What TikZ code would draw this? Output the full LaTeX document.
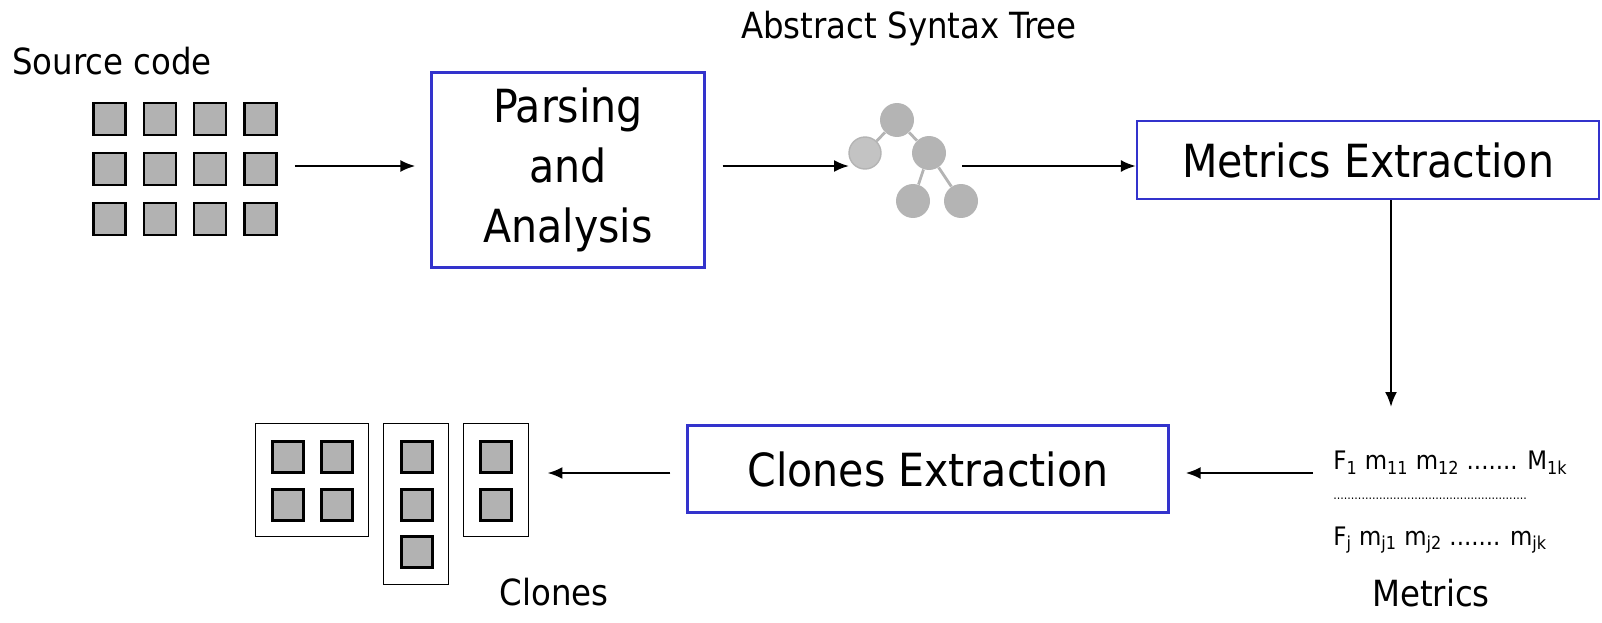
\documentclass[tikz,border=0pt]{standalone}
\usepackage{fontspec}
\setmainfont{DejaVu Sans Condensed}
\usetikzlibrary{matrix,calc,arrows.meta}
\definecolor{boxblue}{RGB}{51,51,204}
\definecolor{sqgray}{RGB}{178,178,178}
\definecolor{treegray}{RGB}{180,180,180}
\tikzset{
  stepbox/.style  = {draw=boxblue, line width=1.3pt, align=center,
                     inner sep=0pt, font=\fontsize{26}{34}\selectfont},
  codesq/.style   = {draw=black, fill=sqgray, line width=1.3pt,
                     minimum size=0.64cm, inner sep=0pt},
  group/.style    = {draw=black, line width=1.1pt, inner sep=0pt},
  treenode/.style = {circle, fill=treegray, minimum size=0.68cm, inner sep=0pt},
  treeedge/.style = {draw=treegray, line width=1.6pt},
  caption/.style  = {font=\fontsize{20.5}{24}\selectfont},
  metric/.style   = {font=\fontsize{14.5}{17}\selectfont, inner sep=0pt},
  flow/.style     = {-{Latex[length=0.3cm,width=0.24cm]}, line width=1.3pt}
}

\begin{document}
\begin{tikzpicture}[x=0.02cm,y=-0.02cm]
  \useasboundingbox (0,0) rectangle (1602,622);

  % source code
  \node[caption] (srclabel) at (112,61) {Source code};
  \matrix (src) at (185,169)
    [
      matrix of nodes,
      column sep    = 0.32cm,
      row sep       = 0.32cm,
      nodes         = {codesq},
      inner sep     = 0pt
    ]
    {
      {} & {} & {} & {} \\
      {} & {} & {} & {} \\
      {} & {} & {} & {} \\
    };

  % steps
  \node[stepbox, minimum width=5.46cm, minimum height=3.9cm] (parse) at (568,170)
    {Parsing\\and\\Analysis};
  \node[stepbox, minimum width=9.24cm, minimum height=1.56cm] (metx) at (1368,160)
    {Metrics Extraction};
  \node[stepbox, minimum width=9.62cm, minimum height=1.74cm] (cex) at (928,469)
    {Clones Extraction};

  % abstract syntax tree
  \node[caption] (astlabel) at (909,29) {Abstract Syntax Tree};
  \node[treenode] (t0) at (897,120) {};
  \node[treenode, fill=treegray!80, draw=treegray, line width=0.8pt,
        minimum size=0.64cm] (t1) at (865,153) {};
  \node[treenode] (t2) at (929,153) {};
  \node[treenode] (t3) at (913,201) {};
  \node[treenode] (t4) at (961,201) {};
  \foreach \a/\b in {t0/t1, t0/t2, t2/t3, t2/t4}
    \draw[treeedge] (\a) -- (\b);
  \coordinate (astin) at (849,166);
  \coordinate (astout) at (962,166);

  % metrics
  \node[metric, anchor=west] (m1) at (1333,463)
    {F\textsubscript{1} m\textsubscript{11} m\textsubscript{12} ....... M\textsubscript{1k}};
  \node[metric, anchor=west, font=\fontsize{7}{8}\selectfont] (mdots) at (1333,499)
    {.......................................................};
  \node[metric, anchor=west] (mj) at (1333,540)
    {F\textsubscript{j} m\textsubscript{j1} m\textsubscript{j2} ....... m\textsubscript{jk}};
  \node[caption] (mlabel) at (1431,593) {Metrics};
  \coordinate (mdown) at (1391,407);
  \coordinate (min) at (1313,473);

  % clones
  \node[group, minimum width=2.26cm, minimum height=2.26cm] (g1) at (312,480) {};
  \node[group, minimum width=1.3cm, minimum height=3.22cm] (g2) at (416,504) {};
  \node[group, minimum width=1.3cm, minimum height=2.26cm] (g3) at (496,480) {};
  \foreach \x/\y in {288/457, 337/457, 288/505, 337/505,
                     417/457, 417/505, 417/552, 496/457, 496/505}
    \node[codesq, minimum size=0.62cm] at (\x,\y) {};
  \node[caption] (clabel) at (554,592) {Clones};

  % connectors
  \draw[flow] ($(src.east |- parse)+(17,-4)$) -- ($(parse.west)+(-15,-4)$);
  \draw[flow] ($(parse.east)+(17,-4)$) -- (astin);
  \draw[flow] (astout) -- (metx.west |- astout);
  \draw[flow] (metx.south -| mdown) -- (mdown);
  \draw[flow] (min) -- ($(cex.east)+(16,4)$);
  \draw[flow] ($(cex.west)+(-16,4)$) -- ($(g3.east)+(18,-7)$);
\end{tikzpicture}
\end{document}
